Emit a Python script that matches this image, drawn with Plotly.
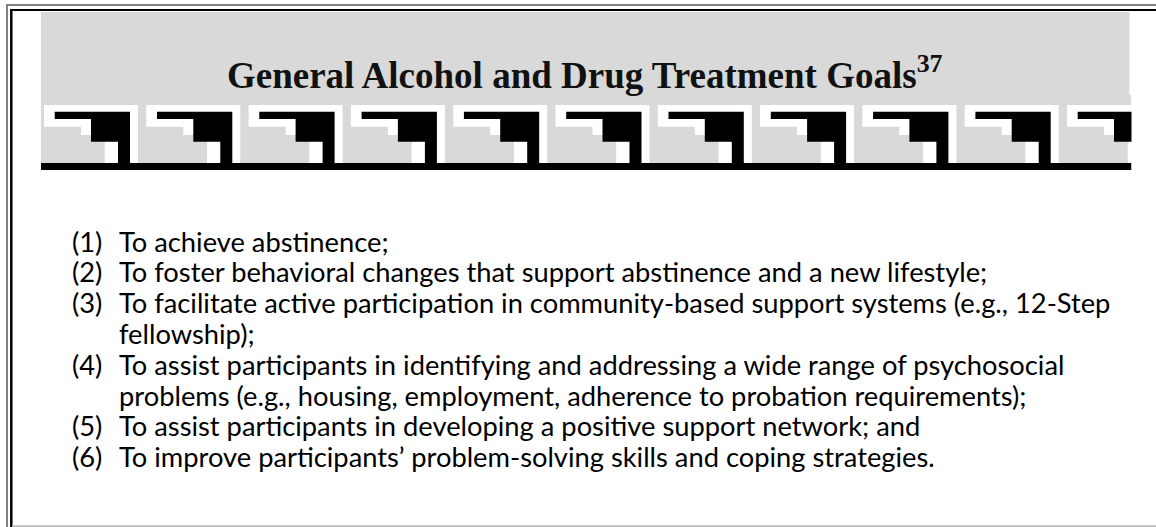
import plotly.graph_objects as go

# ---------------- data ----------------
title_text = "General Alcohol and Drug Treatment Goals"
title_sup = "37"
item_labels = ["(1)", "(2)", "(3)", "(4)", "(5)", "(6)"]
item_lines = [
    ["To achieve abstinence;"],
    ["To foster behavioral changes that support abstinence and a new lifestyle;"],
    ["To facilitate active participation in community-based support systems (e.g., 12-Step",
     "fellowship);"],
    ["To assist participants in identifying and addressing a wide range of psychosocial",
     "problems (e.g., housing, employment, adherence to probation requirements);"],
    ["To assist participants in developing a positive support network; and"],
    ["To improve participants\u2019 problem-solving skills and coping strategies."],
]
n_key_units = 11

# ---------------- layout constants ----------------
W, H = 1156, 527
HEAD_X0, HEAD_X1 = 41, 1129.5
HEAD_Y0, HEAD_Y1 = 12, 95
PAT_X1 = 1131.5
PAT_Y1 = 163
BAR_Y1 = 170
UNIT_X0 = 44
UNIT_STEP = 102.3
GRAY = "#d9d9d9"

LINE_Y0 = 241
LINE_DY = 30.8
LABEL_X = 70
TEXT_X = 116.7
BODY_FONT = dict(family="Lato, Carlito, Calibri, sans-serif", size=27.3, color="#000000")

fig = go.Figure()
shapes = []

# header gray block and pattern background
shapes.append(dict(type="rect", x0=HEAD_X0, x1=HEAD_X1, y0=HEAD_Y0, y1=HEAD_Y1,
                   fillcolor=GRAY, line=dict(width=0), layer="below"))
shapes.append(dict(type="rect", x0=HEAD_X0, x1=PAT_X1, y0=HEAD_Y1, y1=PAT_Y1,
                   fillcolor=GRAY, line=dict(width=0), layer="below"))


def poly(pts, dx):
    return "M " + " L ".join(f"{x + dx},{y}" for x, y in pts) + " Z"


white_pts = [(0, 105), (94, 105), (94, 163), (60.7, 163), (60.7, 135), (37, 135),
             (37, 126.7), (0, 126.7)]
black_pts = [(10.7, 111.7), (86, 111.7), (86, 163.5), (74, 163.5), (74, 141.7), (47, 141.7),
             (47, 119), (10.7, 119)]
for i in range(n_key_units):
    dx = UNIT_X0 + i * UNIT_STEP
    shapes.append(dict(type="path", path=poly(white_pts, dx), fillcolor="#ffffff",
                       line=dict(width=0), layer="below"))
    shapes.append(dict(type="path", path=poly(black_pts, dx), fillcolor="#000000",
                       line=dict(width=0), layer="below"))
# bottom black bar of the key pattern
shapes.append(dict(type="rect", x0=HEAD_X0, x1=PAT_X1, y0=PAT_Y1, y1=BAR_Y1,
                   fillcolor="#000000", line=dict(width=0), layer="below"))
# clip the last unit
shapes.append(dict(type="rect", x0=PAT_X1, x1=W, y0=HEAD_Y1, y1=BAR_Y1 + 1,
                   fillcolor="#ffffff", line=dict(width=0), layer="below"))

# frame lines
shapes += [
    dict(type="line", x0=6, x1=W, y0=5, y1=5, line=dict(color="#808080", width=2)),
    dict(type="line", x0=7, x1=7, y0=4, y1=H, line=dict(color="#808080", width=2)),
    dict(type="line", x0=10.5, x1=W, y0=10, y1=10, line=dict(color="#000000", width=2)),
    dict(type="line", x0=11.3, x1=11.3, y0=9, y1=H, line=dict(color="#000000", width=2.5)),
    dict(type="line", x0=12, x1=W, y0=526.2, y1=526.2, line=dict(color="#bdbdbd", width=1.8)),
]

annotations = []
annotations.append(dict(
    x=585, y=72.5, xref="x", yref="y", xanchor="center", yanchor="middle",
    text=f"<b>{title_text}<sup>{title_sup}</sup></b>", showarrow=False,
    font=dict(family="Liberation Serif, Times New Roman, serif", size=37, color="#111111"),
))

row = 0
for lab, lines in zip(item_labels, item_lines):
    y = LINE_Y0 + row * LINE_DY
    annotations.append(dict(x=LABEL_X, y=y, xref="x", yref="y", xanchor="left",
                            yanchor="middle", text=lab, showarrow=False, font=BODY_FONT))
    for ln in lines:
        y = LINE_Y0 + row * LINE_DY
        annotations.append(dict(x=TEXT_X, y=y, xref="x", yref="y", xanchor="left",
                                yanchor="middle", text=ln, showarrow=False, font=BODY_FONT))
        row += 1

fig.update_layout(
    width=W, height=H, margin=dict(l=0, r=0, t=0, b=0),
    paper_bgcolor="#ffffff", plot_bgcolor="#ffffff",
    xaxis=dict(range=[0, W], visible=False, fixedrange=True),
    yaxis=dict(range=[H, 0], visible=False, fixedrange=True),
    shapes=shapes, annotations=annotations, showlegend=False,
)
fig.write_html(
    "out.html",
    config={"displayModeBar": False},
    post_script=("document.body.style.margin='0';"
                 "document.body.style.overflow='hidden';"
                 "document.documentElement.style.overflow='hidden';"),
)
